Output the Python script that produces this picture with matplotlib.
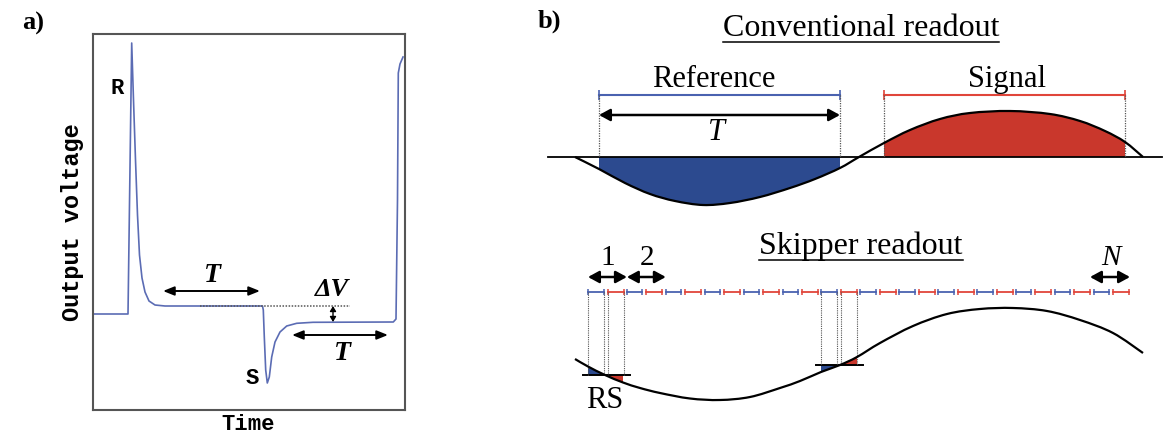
import numpy as np
import matplotlib
matplotlib.use("Agg")
import matplotlib.pyplot as plt
from matplotlib.path import Path
from matplotlib.patches import PathPatch

# ---------------- panel a: output waveform (arbitrary units) ----------------
wave_t = [0, 35, 38.7, 40.5, 42.5, 44.5, 46.5, 49, 52, 56, 62, 72, 169.5, 170.3,
          171.3, 172.7, 174.3, 176.3, 178.7, 182, 187, 193.7, 203.7, 220, 300.3,
          303, 304.5, 305.3, 307, 310]
wave_v = [96, 96, 367, 310, 250, 195, 155, 132, 118, 109, 105, 104, 104, 100,
          73, 40, 27, 33, 53, 68, 78, 84, 86.7, 87.7, 88, 91, 210, 337, 346, 353]
pedestal_level = 104
signal_level = 88

# ---------------- panel b: conventional readout ----------------
conv_x = [575, 599, 625, 650, 675, 703, 730, 760, 790, 815, 840, 859, 884, 910,
          940, 970, 1010, 1050, 1080, 1105, 1125, 1143]
conv_y = [157, 169, 183, 194, 201, 205, 203, 197, 188, 179, 168, 157, 143, 130,
          119, 113, 111, 114, 121, 131, 142, 157]
conv_base = 157
ref_window = (599, 840)
sig_window = (884, 1125)

# ---------------- panel b: skipper readout ----------------
skip_x = [575, 588, 605, 623, 640, 660, 690, 720, 750, 780, 800, 821, 840, 857,
          880, 913, 947, 980, 1013, 1047, 1080, 1113, 1143]
skip_y = [359, 366.5, 375, 382.5, 388, 393, 398.5, 400, 397, 388, 381, 372, 365,
          357, 343, 326, 314, 309, 308, 311, 320, 333, 353]
n_pairs = 14
hl_pairs = [0, 6]          # pairs shown projected onto the curve
hl_level = [375, 365]
hl_cross = [605, 840]

BLUE = '#2c4a8f'
RED = '#c9372c'
BLUE_LINE = '#4a62b0'
RED_LINE = '#e0453a'
SERIF = 'Liberation Serif'
MONO = 'Liberation Mono'


def bezier_segments(xs, ys):
    # Catmull-Rom through the read points, as cubic bezier pieces
    p = np.column_stack([xs, ys]).astype(float)
    ext = np.vstack([p[0], p, p[-1]])
    segs = []
    for i in range(len(p) - 1):
        p0, p1, p2, p3 = ext[i], ext[i + 1], ext[i + 2], ext[i + 3]
        segs.append((p1, p1 + (p2 - p0) / 6, p2 - (p3 - p1) / 6, p2))
    return segs


def curve_path(segs, base=None):
    verts = [segs[0][0]]
    codes = [Path.MOVETO]
    for _, c1, c2, e in segs:
        verts += [c1, c2, e]
        codes += [Path.CURVE4] * 3
    if base is not None:
        verts += [(segs[-1][3][0], base), (segs[0][0][0], base), segs[0][0]]
        codes += [Path.LINETO, Path.LINETO, Path.CLOSEPOLY]
    return Path(verts, codes)


def knot(xs, xv):
    return int(np.argmin(np.abs(np.array(xs) - xv)))


fig = plt.figure(figsize=(11.69, 4.37), dpi=100)

# panel a axes
axa = fig.add_axes([93 / 1169, 1 - 410 / 437, 312 / 1169, 376 / 437])
axa.plot(wave_t, wave_v, color='#5b6cb4', lw=1.2)
axa.set_xlim(0, 312)
axa.set_ylim(0, 376)
axa.set_xticks([])
axa.set_yticks([])
for s in axa.spines.values():
    s.set_color('#555555')
    s.set_linewidth(1.5)

axa.plot([107, 257], [pedestal_level, pedestal_level], ls=(0, (1, 1)), color='#555555', lw=1.1)
arr = dict(arrowstyle='<|-|>,head_length=0.55,head_width=0.22', color='k', lw=1.4,
           mutation_scale=12, shrinkA=0, shrinkB=0)
axa.annotate('', xy=(167, 119), xytext=(70, 119), arrowprops=arr)
axa.annotate('', xy=(295, 75), xytext=(199, 75), arrowprops=arr)
axa.annotate('', xy=(240, signal_level), xytext=(240, pedestal_level),
             arrowprops=dict(arrowstyle='<|-|>,head_length=0.5,head_width=0.3', color='k',
                             lw=1.0, mutation_scale=6, shrinkA=0, shrinkB=0))
axa.text(24, 322, 'R', family=MONO, weight='bold', size=16, ha='center', va='center')
axa.text(159, 32, 'S', family=MONO, weight='bold', size=16, ha='center', va='center')
axa.text(119, 135, 'T', family=SERIF, style='italic', weight='bold', size=20, ha='center', va='center')
axa.text(249, 57, 'T', family=SERIF, style='italic', weight='bold', size=20, ha='center', va='center')
axa.text(239, 121, 'ΔV', family=SERIF, style='italic', weight='bold', size=19, ha='center', va='center')

# overlay in pixel coordinates for panel b and outer labels
ov = fig.add_axes([0, 0, 1, 1])
ov.set_xlim(0, 1169)
ov.set_ylim(437, 0)
ov.axis('off')

ov.text(33, 23, 'a)', family=SERIF, weight='bold', size=19, ha='center', va='center')
ov.text(549, 21, 'b)', family=SERIF, weight='bold', size=19, ha='center', va='center')
ov.text(72, 222, 'Output voltage', family=MONO, weight='bold', size=17, rotation=90,
        ha='center', va='center')
ov.text(248, 425, 'Time', family=MONO, weight='bold', size=16, ha='center', va='center')

# conventional readout
conv_segs = bezier_segments(conv_x, conv_y)
for (a, b), col in [(ref_window, BLUE), (sig_window, RED)]:
    i0, i1 = knot(conv_x, a), knot(conv_x, b)
    ov.add_patch(PathPatch(curve_path(conv_segs[i0:i1], conv_base), fc=col, ec='none', zorder=1))
ov.plot([548, 1162], [conv_base, conv_base], color='k', lw=1.3, zorder=2)
ov.add_patch(PathPatch(curve_path(conv_segs), fc='none', ec='k', lw=1.6, zorder=3))
ov.plot(ref_window, [95, 95], color=BLUE_LINE, lw=1.5, marker='|', ms=7, mew=1.2)
ov.plot(sig_window, [95, 95], color=RED_LINE, lw=1.5, marker='|', ms=7, mew=1.2)
for xv in list(ref_window) + list(sig_window):
    ov.plot([xv, xv], [95, conv_base], ls=(0, (1, 1)), color='#555555', lw=0.9)
arr_b = dict(arrowstyle='<|-|>,head_length=0.55,head_width=0.3', color='k', lw=1.8,
             mutation_scale=12, shrinkA=0, shrinkB=0)
ov.annotate('', xy=(ref_window[1], 115), xytext=(ref_window[0], 115), arrowprops=arr_b)
ov.text(716, 140, 'T', family=SERIF, style='italic', size=22, ha='center', va='baseline')
ov.text(714, 87, 'Reference', family=SERIF, size=22, ha='center', va='baseline')
ov.text(1007, 87, 'Signal', family=SERIF, size=22, ha='center', va='baseline')

# skipper readout
skip_segs = bezier_segments(skip_x, skip_y)
period = 38.9
x_start = 588
for i in range(n_pairs):
    xb = x_start + i * period
    ov.plot([xb, xb + 15.5], [292, 292], color=BLUE_LINE, lw=1.3, marker='|', ms=5, mew=1.1)
    ov.plot([xb + 19.5, xb + 35.5], [292, 292], color=RED_LINE, lw=1.3, marker='|', ms=5, mew=1.1)

for k, lev, xc in zip(hl_pairs, hl_level, hl_cross):
    xb = x_start + k * period
    i0, ic, i1 = knot(skip_x, xb), knot(skip_x, xc), knot(skip_x, xb + 35.5)
    ov.add_patch(PathPatch(curve_path(skip_segs[i0:ic], lev), fc=BLUE, ec='none', zorder=1))
    ov.add_patch(PathPatch(curve_path(skip_segs[ic:i1], lev), fc=RED, ec='none', zorder=1))
    ov.plot([xb - 5, xb + 42], [lev, lev], color='k', lw=1.4, zorder=2)
    for xv in [xb, xb + 15.5, xb + 19.5, xb + 35.5]:
        ov.plot([xv, xv], [292, lev], ls=(0, (1, 1)), color='#555555', lw=0.8)

ov.add_patch(PathPatch(curve_path(skip_segs), fc='none', ec='k', lw=1.6, zorder=3))
ov.annotate('', xy=(x_start + period, 277), xytext=(x_start, 277), arrowprops=arr_b)
ov.annotate('', xy=(x_start + 2 * period, 277), xytext=(x_start + period, 277), arrowprops=arr_b)
ov.annotate('', xy=(1130, 277), xytext=(1090, 277), arrowprops=arr_b)
ov.text(608, 265, '1', family=SERIF, size=21, ha='center', va='baseline')
ov.text(647, 265, '2', family=SERIF, size=21, ha='center', va='baseline')
ov.text(1111, 265, 'N', family=SERIF, style='italic', size=21, ha='center', va='baseline')
ov.text(605, 408, 'RS', family=SERIF, size=22, ha='center', va='baseline')

# underlined titles
titles = [ov.text(861, 36, 'Conventional readout', family=SERIF, size=23, ha='center', va='baseline'),
          ov.text(861, 254, 'Skipper readout', family=SERIF, size=23, ha='center', va='baseline')]
fig.canvas.draw()
inv = ov.transData.inverted()
for t, yl in zip(titles, [42, 260]):
    bb = t.get_window_extent()
    (x0, _), (x1, _) = inv.transform([[bb.x0, bb.y0], [bb.x1, bb.y1]])
    ov.plot([x0, x1], [yl, yl], color='k', lw=1.1)

fig.savefig('out.png', dpi=100)
